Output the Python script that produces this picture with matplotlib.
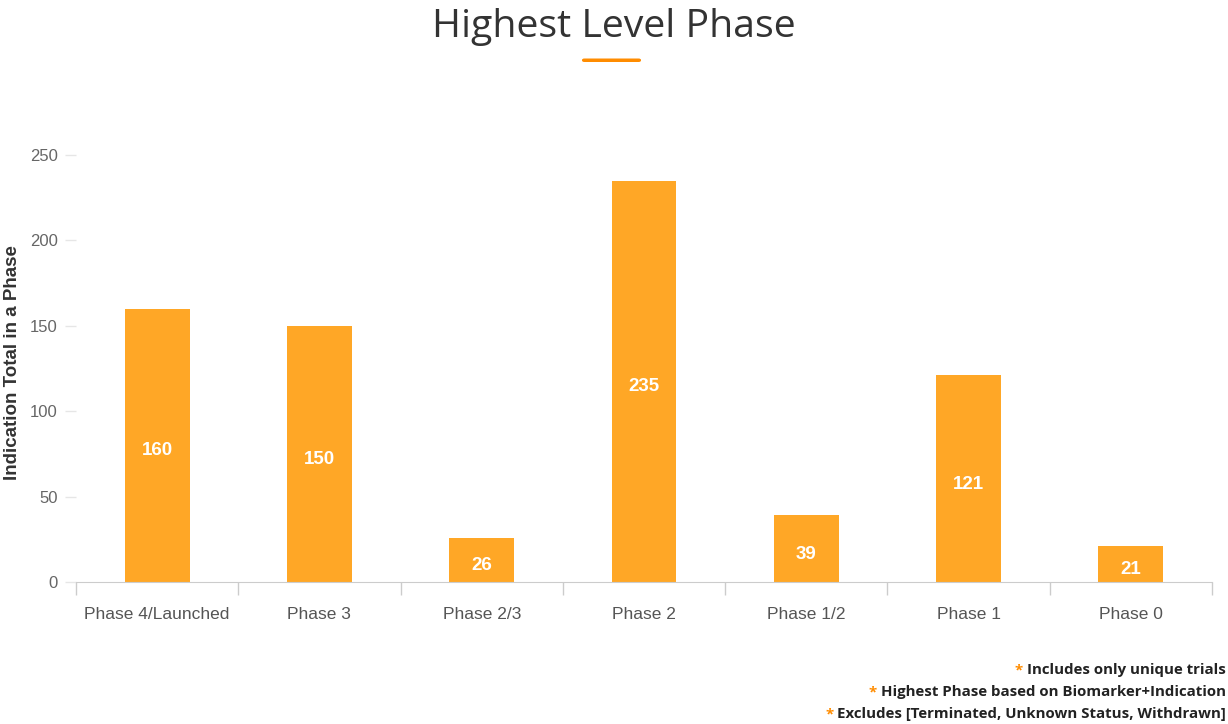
import matplotlib.pyplot as plt
import numpy as np
from matplotlib.patches import FancyBboxPatch

phases = ["Phase 4/Launched", "Phase 3", "Phase 2/3", "Phase 2", "Phase 1/2", "Phase 1", "Phase 0"]
totals = [160, 150, 26, 235, 39, 121, 21]
y_ticks = [0, 50, 100, 150, 200, 250]
notes = [
    "Includes only unique trials",
    "Highest Phase based on Biomarker+Indication",
    "Excludes [Terminated, Unknown Status, Withdrawn]",
]

bar_color = "#FFA726"
accent = "#FF8C00"
axis_grey = "#CCCCCC"

fig = plt.figure(figsize=(12.28, 7.24), dpi=100)
ax = fig.add_axes([0.0619, 0.196, 0.925, 0.590])

x = np.arange(len(phases))
bars = ax.bar(x, totals, width=0.4, color=bar_color, zorder=2)

# value labels in the middle of each bar (a touch below centre)
for b, v in zip(bars, totals):
    ax.annotate(str(v), (b.get_x() + b.get_width() / 2, v / 2), xytext=(0, -4),
                textcoords="offset points", ha="center", va="center",
                color="white", fontsize=13.5, fontweight="bold", family="Liberation Sans")

ax.set_xlim(-0.5, len(phases) - 0.5)
ax.set_ylim(0, 250)
ax.set_yticks(y_ticks)
ax.set_yticklabels([str(t) for t in y_ticks], fontsize=12, color="#666666", family="Liberation Sans")
ax.tick_params(axis="y", length=8, color="#E6E6E6", width=1, pad=5)

# category ticks sit on the boundaries
ax.set_xticks(x)
ax.set_xticklabels(phases, fontsize=12.5, color="#555555", family="Liberation Sans")
ax.tick_params(axis="x", length=0, pad=18)
ax.set_xticks(np.arange(-0.5, len(phases)), minor=True)
ax.tick_params(axis="x", which="minor", length=9, color=axis_grey, width=1)

for s in ["top", "right", "left"]:
    ax.spines[s].set_visible(False)
ax.spines["bottom"].set_color(axis_grey)

ax.set_ylabel("Indication Total in a Phase", fontsize=13.5, fontweight="bold",
              color="#333333", family="Liberation Sans")
ax.yaxis.set_label_coords(-0.0485, 0.515)

fig.text(0.5, 0.963, "Highest Level Phase", ha="center", va="center",
         fontsize=28.3, color="#333333", family="Open Sans")
fig.add_artist(FancyBboxPatch((582 / 1228, 1 - 62 / 724), 59 / 1228, 3.5 / 724,
                              boxstyle="round,pad=0,rounding_size=0.002",
                              transform=fig.transFigure, color=accent, lw=0))

for i, note in enumerate(notes):
    yy = 1 - (670 + 22 * i) / 724
    t = fig.text(1226 / 1228, yy, note, ha="right", va="center", fontsize=10.8,
                 fontweight="bold", color="#222222", family="Open Sans")
    fig.canvas.draw()
    bb = t.get_window_extent()
    fig.text(bb.x0 - 4, yy * 724, "*", ha="right", va="center", fontsize=10.8,
             fontweight="bold", color=accent, family="Open Sans", transform=None)

fig.savefig("out.png", dpi=100)
